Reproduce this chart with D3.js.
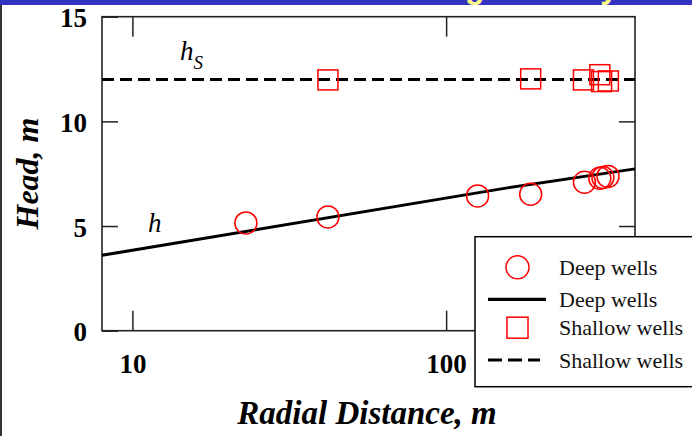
<!DOCTYPE html>
<html>
<head>
<meta charset="utf-8">
<script src="https://cdn.jsdelivr.net/npm/d3@7"></script>
<style>
  html, body { margin: 0; padding: 0; background: #fff; }
  svg { display: block; }
</style>
</head>
<body>
<svg id="chart" width="692" height="436"></svg>
<script>
// Observed heads in deep and shallow wells versus radial distance
const deepDist   = [23, 42, 126, 186, 276, 309, 316, 328];
const deepHead   = [5.15, 5.43, 6.44, 6.52, 7.09, 7.28, 7.32, 7.37];
const shallowDist = [42, 186, 274, 309, 313, 329];
const shallowHead = [11.98, 12.03, 11.98, 12.23, 11.90, 11.93];

// Fitted head in the deep aquifer (h) and constant shallow head (h_S)
const deepLineDist = [8, 155, 400];
const deepLineHead = [3.60, 6.81, 7.73];
const shallowLineDist = [8, 400];
const shallowLineHead = [12, 12];

const xTicks = [10, 100];
const yTicks = [0, 5, 10, 15];
const legendLabels = ["Deep wells", "Deep wells", "Shallow wells", "Shallow wells"];
const titleText = "Observed Heads vs. Leakage Theory";

const svg = d3.select("#chart");
const serif = "'Liberation Serif', 'Times New Roman', serif";

const plot = { left: 102, right: 635, top: 16.7, bottom: 330.7 };
const x = d3.scaleLog().domain([8, 400]).range([plot.left, plot.right]);
const y = d3.scaleLinear().domain([0, 15]).range([plot.bottom, plot.top]);

// Header band with title
svg.append("rect").attr("x", 0).attr("y", 0).attr("width", 692).attr("height", 5)
  .attr("fill", "#3333c0");
const title = svg.append("text")
  .attr("x", 0).attr("y", -2)
  .attr("font-family", "'Liberation Sans', Arial, sans-serif")
  .attr("font-weight", "bold").attr("font-size", 32)
  .attr("fill", "#ffff88")
  .text(titleText);
const gIndex = titleText.indexOf("g");
const gPos = title.node().getStartPositionOfChar(gIndex).x;
title.attr("x", 465 - gPos);

// Left page edge
svg.append("rect").attr("x", 0).attr("y", 5).attr("width", 2).attr("height", 431)
  .attr("fill", "#333");

// Axes (ticks point inward)
const axisStyle = g => {
  g.select(".domain").remove();
  g.selectAll(".tick line").attr("stroke", "#222").attr("stroke-width", 1.5);
};

svg.append("g").attr("transform", `translate(0,${plot.bottom})`)
  .call(d3.axisBottom(x).tickValues(xTicks).tickSize(-20).tickFormat(d3.format("d")))
  .call(axisStyle)
  .call(g => g.selectAll(".tick text")
    .attr("y", 42).attr("dy", 0)
    .attr("font-family", serif).attr("font-weight", "bold").attr("font-size", 27)
    .attr("fill", "#000"));

svg.append("g").attr("transform", `translate(0,${plot.top})`)
  .call(d3.axisTop(x).tickValues(xTicks).tickSize(-20).tickFormat(""))
  .call(axisStyle);

svg.append("g").attr("transform", `translate(${plot.left},0)`)
  .call(d3.axisLeft(y).tickValues(yTicks).tickSize(-16).tickFormat(d3.format("d")))
  .call(axisStyle)
  .call(g => g.selectAll(".tick text")
    .attr("x", -15).attr("dy", 10)
    .attr("font-family", serif).attr("font-weight", "bold").attr("font-size", 27)
    .attr("fill", "#000"));

svg.append("g").attr("transform", `translate(${plot.right},0)`)
  .call(d3.axisRight(y).tickValues([5, 10]).tickSize(-16).tickFormat(""))
  .call(axisStyle);

// Plot frame
svg.append("rect")
  .attr("x", plot.left).attr("y", plot.top)
  .attr("width", plot.right - plot.left).attr("height", plot.bottom - plot.top)
  .attr("fill", "none").attr("stroke", "#222").attr("stroke-width", 1.6);

// Lines
const line = d3.line().x(d => x(d[0])).y(d => y(d[1]));
svg.append("path")
  .datum(shallowLineDist.map((d, i) => [d, shallowLineHead[i]]))
  .attr("d", line).attr("fill", "none").attr("stroke", "#000")
  .attr("stroke-width", 3).attr("stroke-dasharray", "12,6");
svg.append("path")
  .datum(deepLineDist.map((d, i) => [d, deepLineHead[i]]))
  .attr("d", line).attr("fill", "none").attr("stroke", "#000")
  .attr("stroke-width", 3);

// Markers
svg.append("g").selectAll("circle")
  .data(deepDist.map((d, i) => [d, deepHead[i]]))
  .join("circle")
  .attr("cx", d => x(d[0])).attr("cy", d => y(d[1])).attr("r", 11)
  .attr("fill", "none").attr("stroke", "#ff0000").attr("stroke-width", 1.5);

svg.append("g").selectAll("rect")
  .data(shallowDist.map((d, i) => [d, shallowHead[i]]))
  .join("rect")
  .attr("x", d => x(d[0]) - 10).attr("y", d => y(d[1]) - 10)
  .attr("width", 20).attr("height", 20)
  .attr("fill", "none").attr("stroke", "#ff0000").attr("stroke-width", 1.5);

// Curve labels
const hs = svg.append("text").attr("x", 180).attr("y", 60)
  .attr("font-family", serif).attr("font-style", "italic").attr("font-size", 27);
hs.append("tspan").text("h");
hs.append("tspan").attr("dy", 9).attr("font-size", 19).text("S");

svg.append("text").attr("x", 148).attr("y", 232)
  .attr("font-family", serif).attr("font-style", "italic").attr("font-size", 27)
  .text("h");

// Axis titles
svg.append("text")
  .attr("transform", "translate(38,173.5) rotate(-90)")
  .attr("text-anchor", "middle")
  .attr("font-family", serif).attr("font-weight", "bold").attr("font-style", "italic")
  .attr("font-size", 32)
  .text("Head, m");

svg.append("text")
  .attr("x", 367).attr("y", 424)
  .attr("text-anchor", "middle")
  .attr("font-family", serif).attr("font-weight", "bold").attr("font-style", "italic")
  .attr("font-size", 33)
  .text("Radial Distance, m");

// Legend
const legend = svg.append("g");
legend.append("rect")
  .attr("x", 475).attr("y", 236.7).attr("width", 240).attr("height", 150)
  .attr("fill", "#fff").attr("stroke", "#000").attr("stroke-width", 1.5);

const rowSym = [267.3, 299.3, 327.7, 360];
const rowText = [274.5, 307.3, 335, 367.5];
legend.append("circle").attr("cx", 517.5).attr("cy", rowSym[0]).attr("r", 11.5)
  .attr("fill", "none").attr("stroke", "#ff0000").attr("stroke-width", 1.5);
legend.append("line").attr("x1", 488).attr("x2", 546).attr("y1", rowSym[1]).attr("y2", rowSym[1])
  .attr("stroke", "#000").attr("stroke-width", 3.2);
legend.append("rect").attr("x", 507).attr("y", rowSym[2] - 10.5).attr("width", 21).attr("height", 21)
  .attr("fill", "none").attr("stroke", "#ff0000").attr("stroke-width", 1.5);
legend.append("line").attr("x1", 488).attr("x2", 540).attr("y1", rowSym[3]).attr("y2", rowSym[3])
  .attr("stroke", "#000").attr("stroke-width", 3.2).attr("stroke-dasharray", "14,6");

legend.selectAll("text.lbl")
  .data(legendLabels)
  .join("text").attr("class", "lbl")
  .attr("x", 559).attr("y", (d, i) => rowText[i])
  .attr("font-family", serif).attr("font-size", 22).attr("fill", "#111")
  .text(d => d);
</script>
</body>
</html>
